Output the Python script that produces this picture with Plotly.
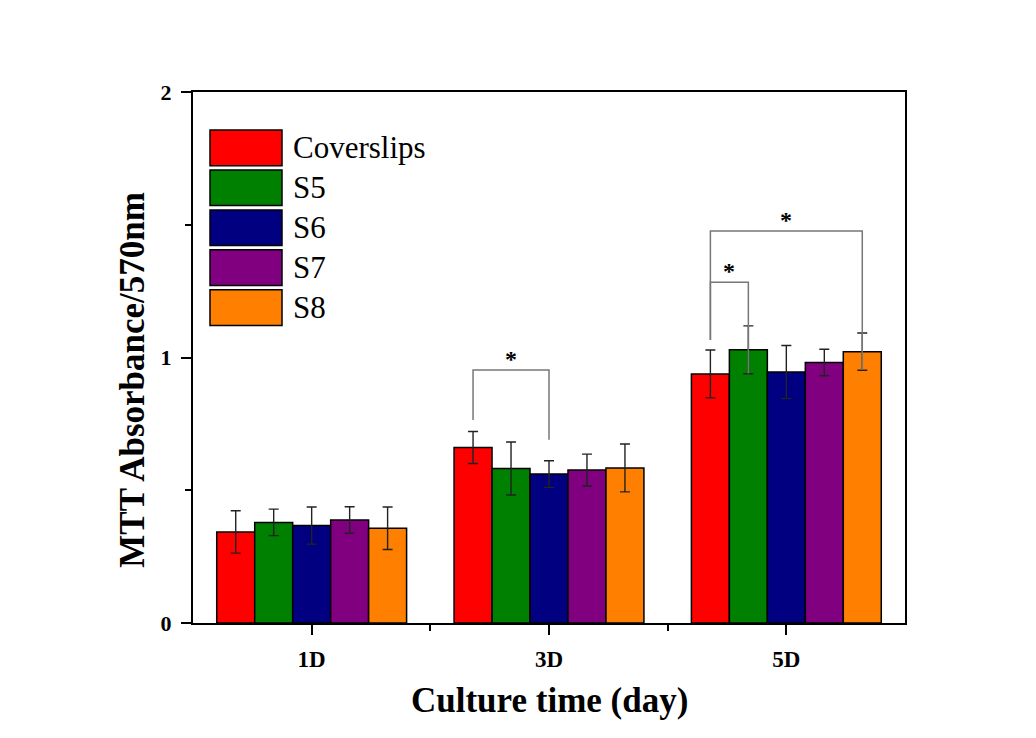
import plotly.graph_objects as go

days = ["1D", "3D", "5D"]
groups = ["Coverslips", "S5", "S6", "S7", "S8"]
colors = ["#FF0000", "#008000", "#000080", "#800080", "#FF8000"]

coverslips = [0.343, 0.661, 0.938]
s5 = [0.379, 0.582, 1.029]
s6 = [0.367, 0.561, 0.945]
s7 = [0.388, 0.576, 0.981]
s8 = [0.357, 0.584, 1.022]
values = [coverslips, s5, s6, s7, s8]

err_coverslips = [0.080, 0.060, 0.090]
err_s5 = [0.050, 0.100, 0.090]
err_s6 = [0.070, 0.050, 0.100]
err_s7 = [0.050, 0.060, 0.050]
err_s8 = [0.080, 0.090, 0.070]
errors = [err_coverslips, err_s5, err_s6, err_s7, err_s8]

# significance brackets: (day index, group a, group b, top, leg a bottom, leg b bottom)
brackets = [
    (1, 0, 2, 0.953, 0.765, 0.690),
    (2, 0, 1, 1.283, 1.066, 0.940),
    (2, 0, 4, 1.476, 1.066, 0.953),
]

x_pos = [0, 1, 2]
bargap = 0.2
bar_w = (1 - bargap) / len(groups)

fig = go.Figure()
for g, vals, errs, c in zip(groups, values, errors, colors):
    fig.add_trace(go.Bar(
        x=x_pos, y=vals, name=g, marker=dict(color=c, line=dict(color="black", width=1.5)),
        error_y=dict(type="data", array=errs, visible=True, color="#222222", thickness=1.4, width=5),
        showlegend=False,
    ))

def bar_center(day, gi):
    return day - (1 - bargap) / 2 + bar_w * (gi + 0.5)

for day, ga, gb, top, la, lb in brackets:
    xa = bar_center(day, ga)
    xb = bar_center(day, gb)
    fig.add_trace(go.Scatter(
        x=[xa, xa, xb, xb], y=[la, top, top, lb], mode="lines",
        line=dict(color="#777777", width=1.5), showlegend=False, hoverinfo="skip",
    ))
    fig.add_annotation(x=(xa + xb) / 2, y=top, xref="x", yref="y", text="*",
                       showarrow=False, yanchor="bottom", yshift=-4,
                       font=dict(family="Liberation Serif", size=24, color="black", weight="bold"))

# page body has an 8px default margin; figure is sized to fit the window
OFF = 8
W, H = 1036 - OFF, 738 - OFF
L, R, T, B = 193, 905, 92, 623.5   # plot area in window pixels
PW, PH = R - L, B - T
def px(xp):
    return (xp - L) / PW
def py(yp):
    return (B - yp) / PH

# legend drawn manually (large swatches)
for i, (g, c) in enumerate(zip(groups, colors)):
    y0 = 130 + 40 * i
    fig.add_shape(type="rect", xref="paper", yref="paper",
                  x0=px(210), x1=px(282), y0=py(y0 + 35.7), y1=py(y0),
                  fillcolor=c, line=dict(color="black", width=1.5))
    fig.add_annotation(xref="paper", yref="paper", x=px(291), y=py(y0 + 18),
                       text=g, showarrow=False, xanchor="left", yanchor="middle",
                       font=dict(family="Liberation Serif", size=31, color="black"))

fig.add_annotation(xref="paper", yref="paper", x=px(133), y=py(380), text="MTT Absorbance/570nm",
                   textangle=-90, showarrow=False, xanchor="center", yanchor="middle",
                   font=dict(family="Liberation Serif", size=35, color="black", weight="bold"))
fig.add_annotation(xref="paper", yref="paper", x=0.5, y=py(701), text="Culture time (day)",
                   showarrow=False, xanchor="center", yanchor="middle",
                   font=dict(family="Liberation Serif", size=35, color="black", weight="bold"))

fig.update_layout(
    width=W, height=H,
    margin=dict(l=L - OFF, r=OFF + W - R, t=T - OFF, b=OFF + H - B, pad=0),
    paper_bgcolor="white", plot_bgcolor="white",
    barmode="group", bargap=bargap, bargroupgap=0,
    showlegend=False,
    xaxis=dict(range=[-0.5, 2.5], tickvals=x_pos, ticktext=days, ticks="outside", ticklen=10,
               tickwidth=2, tickcolor="black", showline=True, linecolor="black", linewidth=2,
               mirror=True, showgrid=False, zeroline=False, ticklabelstandoff=4,
               tickfont=dict(family="Liberation Serif", size=23, color="black", weight="bold"),
               minor=dict(tickvals=[0.5, 1.5], ticks="outside", ticklen=6, tickwidth=2, tickcolor="black")),
    yaxis=dict(range=[0, 2], tickvals=[0, 1, 2], ticks="outside", ticklen=10, tickwidth=2,
               tickcolor="black", showline=True, linecolor="black", linewidth=2, mirror=True,
               showgrid=False, zeroline=False, ticklabelstandoff=5,
               tickfont=dict(family="Liberation Serif", size=22, color="black", weight="bold"),
               minor=dict(tickvals=[0.5, 1.5], ticks="outside", ticklen=6, tickwidth=2, tickcolor="black")),
)

fig.write_html("out.html")
